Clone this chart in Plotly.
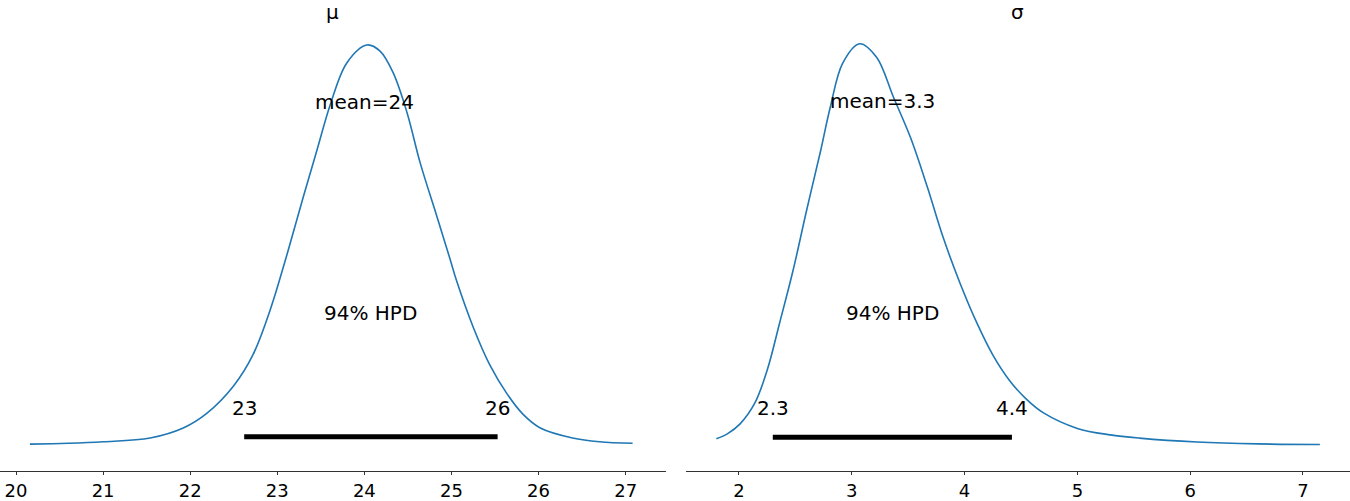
import plotly.graph_objects as go

# ---- data ----
mu_x = [20.16, 20.6, 21.0, 21.54, 21.92, 22.19, 22.5, 22.72, 22.92, 23.11, 23.30, 23.46,
        23.61, 23.80, 24.03, 24.18, 24.33, 24.49, 24.64, 24.83, 24.98, 25.06, 25.25,
        25.44, 25.64, 25.82, 26.02, 26.39, 26.7, 27.08]
mu_density = [0.001, 0.002, 0.004, 0.009, 0.022, 0.041, 0.077, 0.117, 0.176, 0.247, 0.323, 0.385,
              0.443, 0.497, 0.520, 0.512, 0.484, 0.432, 0.367, 0.298, 0.243, 0.213, 0.153,
              0.104, 0.066, 0.040, 0.022, 0.009, 0.004, 0.002]

sigma_x = [1.80, 1.90, 2.01, 2.14, 2.25, 2.36, 2.48, 2.60, 2.72, 2.81, 2.92, 3.07, 3.22, 3.37,
           3.52, 3.67, 3.81, 3.96, 4.11, 4.25, 4.40, 4.55, 4.70, 5.00, 5.29, 5.55, 6.06,
           6.6, 7.15]
sigma_density = [0.010, 0.018, 0.033, 0.065, 0.116, 0.189, 0.271, 0.364, 0.453, 0.524, 0.592, 0.622,
                 0.601, 0.539, 0.477, 0.400, 0.322, 0.251, 0.189, 0.140, 0.100, 0.071, 0.050,
                 0.026, 0.016, 0.011, 0.005, 0.002, 0.001]

mu_mean = 24.0
sigma_mean = 3.27
mu_hpd = [22.62, 25.53]
sigma_hpd = [2.30, 4.42]
mu_hpd_labels = ["23", "26"]
sigma_hpd_labels = ["2.3", "4.4"]
mu_mean_label = "mean=24"
sigma_mean_label = "mean=3.3"
hpd_label = "94% HPD"
titles = ["μ", "σ"]
mu_ticks = [20, 21, 22, 23, 24, 25, 26, 27]
sigma_ticks = [2, 3, 4, 5, 6, 7]

FONT = "DejaVu Sans, Liberation Sans, sans-serif"
LINE = "#1f77b4"

fig = go.Figure()

panels = [
    ("x", "y", mu_x, mu_density, mu_mean, mu_hpd, mu_hpd_labels, mu_mean_label),
    ("x2", "y2", sigma_x, sigma_density, sigma_mean, sigma_hpd, sigma_hpd_labels, sigma_mean_label),
]

for xa, ya, xs, ds, mean, hpd, hlabels, mlabel in panels:
    peak = max(ds)
    fig.add_trace(go.Scatter(x=xs, y=ds, mode="lines", xaxis=xa, yaxis=ya,
                             line=dict(color=LINE, width=1.6, shape="spline", smoothing=1.0),
                             hoverinfo="skip", showlegend=False))
    fig.add_trace(go.Scatter(x=hpd, y=[peak * 0.02, peak * 0.02], mode="lines", xaxis=xa, yaxis=ya,
                             line=dict(color="black", width=5), hoverinfo="skip", showlegend=False))
    for hx, hl in zip(hpd, hlabels):
        fig.add_annotation(x=hx, y=peak * 0.092, xref=xa, yref=ya, text=hl, showarrow=False,
                           font=dict(family=FONT, size=20, color="black"),
                           xanchor="center", yanchor="middle")
    fig.add_annotation(x=mean, y=peak * 0.857, xref=xa, yref=ya, text=mlabel, showarrow=False,
                       font=dict(family=FONT, size=20, color="black"),
                       xanchor="center", yanchor="middle")
    fig.add_annotation(x=(hpd[0] + hpd[1]) / 2, y=peak * 0.33, xref=xa, yref=ya, text=hpd_label,
                       showarrow=False, font=dict(family=FONT, size=20, color="black"),
                       xanchor="center", yanchor="middle")

# titles
fig.add_annotation(x=(0 + 0.4933) / 2, y=1.0, xref="paper", yref="paper", text=titles[0],
                   showarrow=False, font=dict(family=FONT, size=20, color="black"),
                   xanchor="center", yanchor="bottom", yshift=-1)
fig.add_annotation(x=(0.5081 + 1.0) / 2, y=1.0, xref="paper", yref="paper", text=titles[1],
                   showarrow=False, font=dict(family=FONT, size=20, color="black"),
                   xanchor="center", yanchor="bottom", yshift=-1)

axis_common = dict(showline=True, linecolor="#333333", linewidth=1.2, ticks="outside",
                   ticklen=3, tickwidth=1, tickcolor="#333333", showgrid=False, zeroline=False,
                   tickfont=dict(family=FONT, size=18, color="black"), automargin=False)

fig.update_layout(
    width=1350, height=501,
    margin=dict(l=0, r=0, t=25, b=30),
    paper_bgcolor="white", plot_bgcolor="white",
    xaxis=dict(domain=[0, 0.4933], range=[19.816, 27.463], tickvals=mu_ticks,
               anchor="y", **axis_common),
    yaxis=dict(domain=[0, 1], range=[-0.034, 0.546], visible=False, anchor="x"),
    xaxis2=dict(domain=[0.5081, 1.0], range=[1.530, 7.417], tickvals=sigma_ticks,
                anchor="y2", **axis_common),
    yaxis2=dict(domain=[0, 1], range=[-0.040, 0.651], visible=False, anchor="x2"),
)

fig.write_html("out.html", config={"displayModeBar": False},
               post_script="document.body.style.margin='0';document.body.style.overflow='hidden';")
